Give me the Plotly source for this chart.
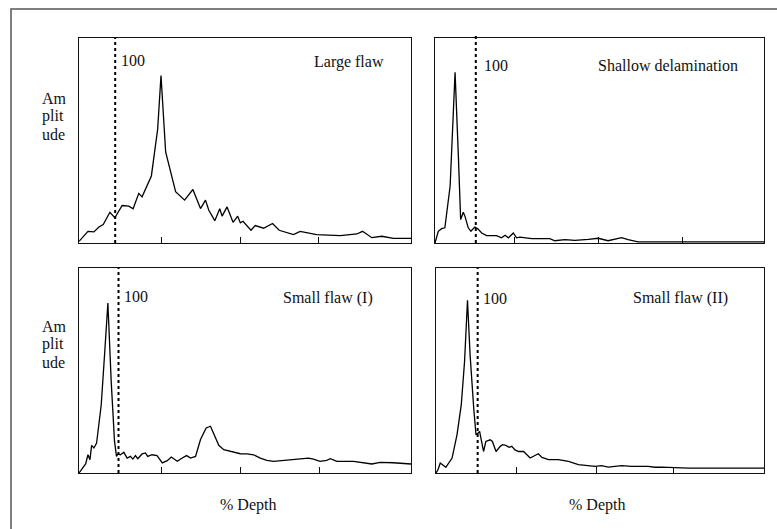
import plotly.graph_objects as go

W, H = 777, 529

# ---------------- data (x: % of plotted depth window, y: relative amplitude) ----------------
large_x = [0, 2.7, 4.5, 6.0, 7.3, 9.3, 10.8, 13.0, 15.0, 16.3, 18.0, 19.0, 21.8, 23.7, 24.7, 26.1,
           29.1, 31.8, 34.3, 36.6, 38.1, 39.1, 40.9, 42.4, 43.1, 44.6, 46.4, 47.8, 48.6, 49.4,
           51.8, 53.1, 55.6, 58.3, 60.3, 64.6, 66.6, 71.6, 78.7, 83.7, 85.4, 88.2, 91.2, 94.7, 100]
large_y = [0.008, 0.057, 0.054, 0.078, 0.090, 0.150, 0.123, 0.183, 0.180, 0.167, 0.242, 0.225,
           0.327, 0.556, 0.817, 0.444, 0.250, 0.209, 0.261, 0.168, 0.209, 0.160, 0.109, 0.167,
           0.131, 0.176, 0.101, 0.131, 0.098, 0.106, 0.062, 0.085, 0.072, 0.095, 0.062, 0.041,
           0.057, 0.041, 0.036, 0.044, 0.057, 0.026, 0.033, 0.023, 0.023]

shallow_x = [0, 1.0, 2.0, 3.0, 4.6, 6.1, 7.1, 7.8, 8.6, 9.1, 10.1, 10.9, 12.1, 13.0, 14.2, 15.7,
             18.7, 20.2, 21.3, 22.3, 23.8, 24.8, 25.8, 29.4, 34.9, 36.4, 39.5, 42.5, 46.6, 49.6,
             52.6, 54.7, 56.7, 58.7, 60.7, 61.7, 100]
shallow_y = [0, 0.057, 0.070, 0.074, 0.278, 0.833, 0.425, 0.114, 0.150, 0.131, 0.074, 0.057,
             0.078, 0.069, 0.049, 0.036, 0.036, 0.025, 0.038, 0.025, 0.049, 0.025, 0.029, 0.021,
             0.021, 0.011, 0.016, 0.013, 0.018, 0.023, 0.011, 0.020, 0.026, 0.016, 0.011, 0.005,
             0.005]

small1_x = [0, 1.0, 2.0, 2.7, 3.3, 3.8, 4.5, 5.3, 6.7, 7.7, 8.7, 9.7, 10.7, 11.3, 11.7, 12.5,
            13.5, 14.5, 15.5, 16.2, 17.0, 17.7, 19.0, 20.0, 20.7, 22.0, 23.5, 25.1, 26.6, 27.8,
            29.6, 31.1, 32.4, 33.6, 35.1, 36.6, 38.3, 39.6, 40.6, 42.1, 43.6, 45.6, 48.6, 50.6,
            52.6, 54.6, 56.6, 58.6, 62.6, 64.6, 69.1, 70.6, 72.6, 74.6, 75.7, 77.7, 82.7, 88.2,
            90.7, 94.7, 100]
small1_y = [0, 0.024, 0.044, 0.089, 0.065, 0.135, 0.122, 0.146, 0.333, 0.577, 0.829, 0.447,
            0.154, 0.081, 0.093, 0.089, 0.101, 0.073, 0.081, 0.068, 0.085, 0.070, 0.093, 0.098,
            0.081, 0.089, 0.085, 0.049, 0.060, 0.078, 0.057, 0.073, 0.085, 0.073, 0.081, 0.163,
            0.220, 0.228, 0.187, 0.135, 0.114, 0.106, 0.094, 0.093, 0.089, 0.073, 0.062, 0.057,
            0.062, 0.068, 0.073, 0.068, 0.057, 0.062, 0.070, 0.057, 0.057, 0.044, 0.052, 0.050,
            0.044]

small2_x = [0, 0.6, 1.3, 2.0, 3.0, 4.9, 6.4, 7.7, 8.7, 9.6, 10.4, 11.5, 12.2, 12.8, 13.3, 13.8,
            14.5, 15.2, 16.5, 17.2, 18.3, 19.6, 20.3, 21.3, 22.3, 23.1, 24.1, 25.2, 26.7, 28.7,
            30.2, 31.2, 32.3, 34.3, 37.3, 40.4, 43.4, 46.5, 48.5, 50.5, 52.5, 56.6, 59.6, 64.7,
            66.7, 68.8, 70.8, 73.0, 76.9, 100]
small2_y = [0, 0.016, 0.049, 0.041, 0.028, 0.073, 0.186, 0.332, 0.543, 0.843, 0.575, 0.316,
            0.186, 0.194, 0.203, 0.162, 0.105, 0.154, 0.162, 0.154, 0.105, 0.130, 0.138, 0.135,
            0.125, 0.130, 0.113, 0.105, 0.105, 0.073, 0.084, 0.094, 0.076, 0.065, 0.065, 0.057,
            0.041, 0.036, 0.032, 0.036, 0.029, 0.036, 0.032, 0.032, 0.028, 0.029, 0.028, 0.024,
            0.024, 0.024]

panel_titles = ["Large flaw", "Shallow delamination", "Small flaw (I)", "Small flaw (II)"]
marker_label = "100"                       # the dotted reference line is the 100 % depth mark
marker_x = [10.9, 12.4, 11.9, 12.7]        # position of the 100 % mark in each window
tick_x = [[24.8, 48.6, 72.0], [24.1, 49.8, 75.3], [24.9, 48.6, 72.3], [24.6, 48.8, 72.3]]
y_label_lines = ["Am", "plit", "ude"]
x_label = "% Depth"

series_x = [large_x, shallow_x, small1_x, small2_x]
series_y = [large_y, shallow_y, small1_y, small2_y]

# ---------------- layout (pixel boxes of the four panels) ----------------
boxes = [(79, 411, 38, 243), (435, 764, 38, 243), (79, 411, 268, 473), (436, 764, 268, 473)]
FONT = "Liberation Serif"
FS = 16

def px(v):
    return v / W

def py(v):
    return 1 - v / H

fig = go.Figure()
layout = dict(width=W, height=H, margin=dict(l=0, r=0, t=0, b=0),
              paper_bgcolor="white", plot_bgcolor="white", showlegend=False,
              font=dict(family=FONT, size=FS, color="#111"))
shapes = []
annotations = []

for i in range(4):
    n = "" if i == 0 else str(i + 1)
    x0, x1, y0, y1 = boxes[i]
    fig.add_trace(go.Scatter(x=series_x[i], y=series_y[i], mode="lines",
                             line=dict(color="black", width=1.3),
                             xaxis="x" + n, yaxis="y" + n, hoverinfo="skip"))
    layout["xaxis" + n] = dict(domain=[px(x0), px(x1)], range=[0, 100], anchor="y" + n,
                               showgrid=False, zeroline=False, showline=True, mirror=True,
                               linecolor="#111", linewidth=1, ticks="inside", ticklen=6,
                               tickwidth=1, tickcolor="#111", tickvals=tick_x[i],
                               showticklabels=False)
    layout["yaxis" + n] = dict(domain=[py(y1), py(y0)], range=[0, 1], anchor="x" + n,
                               showgrid=False, zeroline=False, showline=True, mirror=True,
                               linecolor="#111", linewidth=1, ticks="", showticklabels=False)
    top = 1.02 if i == 1 else 1.0
    shapes.append(dict(type="line", xref="x" + n, yref="y" + n + " domain",
                       x0=marker_x[i], x1=marker_x[i], y0=0, y1=top,
                       line=dict(color="black", width=2, dash="dot")))

# "100" labels
lbl100 = [(119, 61), (482, 66), (122, 296), (481, 298)]
for (xx, yy) in lbl100:
    annotations.append(dict(text=marker_label, xref="paper", yref="paper", x=px(xx), y=py(yy),
                            xanchor="left", yanchor="middle", showarrow=False,
                            font=dict(family=FONT, size=FS, color="#111")))
# titles
title_pos = [(348.5, 62), (668, 66), (327.5, 298), (680, 298)]
for t, (xx, yy) in zip(panel_titles, title_pos):
    annotations.append(dict(text=t, xref="paper", yref="paper", x=px(xx), y=py(yy),
                            xanchor="center", yanchor="middle", showarrow=False,
                            font=dict(family=FONT, size=FS, color="#111")))
# y labels (broken word)
for base in (98, 326):
    for k, s in enumerate(y_label_lines):
        annotations.append(dict(text=s, xref="paper", yref="paper", x=px(40), y=py(base + 18 * k),
                                xanchor="left", yanchor="middle", showarrow=False,
                                font=dict(family=FONT, size=FS, color="#111")))
# x labels
for xx in (248, 597):
    annotations.append(dict(text=x_label, xref="paper", yref="paper", x=px(xx), y=py(505),
                            xanchor="center", yanchor="middle", showarrow=False,
                            font=dict(family=FONT, size=FS, color="#111")))

# outer frame
shapes.append(dict(type="rect", xref="paper", yref="paper", x0=px(11), x1=1.05,
                   y0=-0.05, y1=py(9), line=dict(color="#555", width=1.5)))

layout["shapes"] = shapes
layout["annotations"] = annotations
fig.update_layout(**layout)
fig.write_html("out.html")
